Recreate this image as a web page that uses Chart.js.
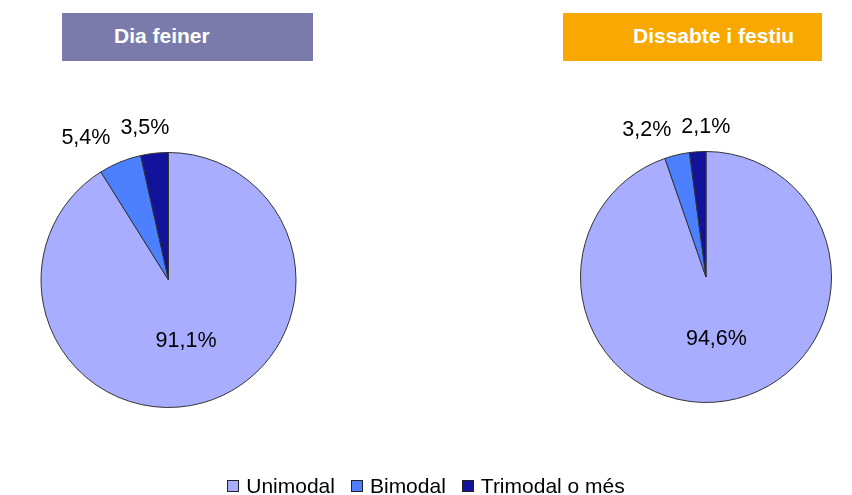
<!DOCTYPE html>
<html>
<head>
<meta charset="utf-8">
<script src="https://cdn.jsdelivr.net/npm/chart.js@4/dist/chart.umd.min.js"></script>
<style>
  html, body { margin:0; padding:0; background:#fff; }
  #wrap { position:relative; width:852px; height:495px; overflow:hidden; font-family:"Liberation Sans", Arial, sans-serif; }
  canvas.pie { position:absolute; left:0; top:0; }
  .hdr { position:absolute; height:48px; color:#fff; font-weight:bold; font-size:21px; line-height:46px; }
  #legend { position:absolute; left:0; width:852px; top:474px; display:flex; justify-content:center; align-items:center; font-size:21px; color:#000; }
  #legend .it { display:flex; align-items:center; margin:0 8px; }
  #legend .sw { width:10px; height:10px; border:1px solid #222; margin-right:7px; }
</style>
</head>
<body>
<div id="wrap">
  <div class="hdr" id="h1" style="left:62px; top:13px; width:251px; background:#7b7bab;"><span style="position:absolute; left:52px;"></span></div>
  <div class="hdr" id="h2" style="left:563px; top:13px; width:259px; background:#f8a800;"><span style="position:absolute; left:70px;"></span></div>
  <canvas class="pie" id="c1" width="852" height="495"></canvas>
  <canvas class="pie" id="c2" width="852" height="495" style="pointer-events:none"></canvas>
  <div id="legend"></div>
</div>
<script>
const categories = ["Unimodal", "Bimodal", "Trimodal o més"];
const panelTitles = ["Dia feiner", "Dissabte i festiu"];
const diaFeiner = [91.1, 5.4, 3.5];
const dissabteFestiu = [94.6, 3.2, 2.1];

const sliceColors = ["#a8adff", "#4d80ff", "#12129a"];

function fmt(v){ return v.toFixed(1).replace('.', ',') + '%'; }

const labelPlugin = {
  id: 'pctLabels',
  afterDatasetsDraw(chart){
    const ctx = chart.ctx;
    const meta = chart.getDatasetMeta(0);
    const data = chart.data.datasets[0].data;
    ctx.save();
    ctx.font = '21.5px "Liberation Sans", Arial, sans-serif';
    ctx.fillStyle = '#000';
    ctx.textBaseline = 'middle';
    const outs = [];
    meta.data.forEach((arc, i) => {
      const p = arc.getProps(['x','y','startAngle','endAngle','outerRadius'], true);
      const mid = (p.startAngle + p.endAngle) / 2;
      const txt = fmt(data[i]);
      const w = ctx.measureText(txt).width;
      if (data[i] > 20) {
        ctx.textAlign = 'center';
        ctx.fillText(txt, p.x + Math.cos(mid) * p.outerRadius * 0.5, p.y + Math.sin(mid) * p.outerRadius * 0.5);
      } else {
        const lx = p.x + Math.cos(mid) * p.outerRadius * 1.2;
        const ly = p.y + Math.sin(mid) * p.outerRadius * 1.2;
        const left = Math.cos(mid) < 0 ? lx - w : lx;
        outs.push({txt, left, w, ly});
      }
    });
    outs.sort((a, b) => a.left - b.left);
    let prevRight = -Infinity;
    ctx.textAlign = 'left';
    outs.forEach(o => {
      if (o.left < prevRight + 10) o.left = prevRight + 10;
      ctx.fillText(o.txt, o.left, o.ly);
      prevRight = o.left + o.w;
    });
    ctx.restore();
  }
};

function makePie(id, values, padding){
  return new Chart(document.getElementById(id), {
    type: 'pie',
    data: {
      labels: categories,
      datasets: [{
        data: values,
        backgroundColor: sliceColors,
        borderColor: '#333333',
        borderWidth: 1
      }]
    },
    options: {
      responsive: false,
      animation: false,
      layout: { padding: padding },
      plugins: { legend: { display: false }, tooltip: { enabled: false } }
    },
    plugins: [labelPlugin]
  });
}

makePie('c1', diaFeiner, { left: 40, right: 555, top: 152, bottom: 87 });
makePie('c2', dissabteFestiu, { left: 580, right: 20, top: 151, bottom: 92 });

document.querySelector('#h1 span').textContent = panelTitles[0];
document.querySelector('#h2 span').textContent = panelTitles[1];

const leg = document.getElementById('legend');
categories.forEach((c, i) => {
  const it = document.createElement('div'); it.className = 'it';
  const sw = document.createElement('div'); sw.className = 'sw'; sw.style.background = sliceColors[i];
  const tx = document.createElement('span'); tx.textContent = c;
  it.appendChild(sw); it.appendChild(tx); leg.appendChild(it);
});
</script>
</body>
</html>
